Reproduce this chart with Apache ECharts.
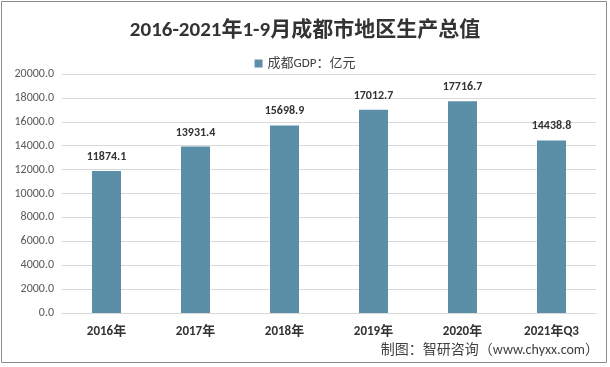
<!DOCTYPE html>
<html>
<head>
<meta charset="utf-8">
<script src="https://cdn.jsdelivr.net/npm/echarts@6/dist/echarts.min.js"></script>
<style>
  html, body { margin: 0; padding: 0; background: #fff; }
  #chart { width: 610px; height: 367px; }
</style>
</head>
<body>
<div id="chart"></div>
<script>
// 年份 & GDP（亿元）
const years = ['2016年', '2017年', '2018年', '2019年', '2020年', '2021年Q3']
const gdp = [11874.1, 13931.4, 15698.9, 17012.7, 17716.7, 14438.8]

const font = 'Calibri, "Noto Sans CJK SC", "Liberation Sans", sans-serif'

const chart = echarts.init(document.getElementById('chart'))
chart.setOption({
  backgroundColor: '#fff',
  animation: false,
  title: {
    text: '2016-2021年1-9月成都市地区生产总值',
    left: 'center',
    top: 15,
    textStyle: { fontSize: 21, fontWeight: 'bold', color: '#333', fontFamily: font }
  },
  legend: {
    top: 52,
    left: 'center',
    itemWidth: 8,
    itemHeight: 8,
    icon: 'rect',
    textStyle: { fontSize: 13, color: '#404040', fontFamily: font },
    data: ['成都GDP：亿元']
  },
  grid: { left: 62, right: 14, top: 74, bottom: 54 },
  xAxis: {
    type: 'category',
    data: years,
    axisLine: { lineStyle: { color: '#d9d9d9' } },
    axisTick: { show: false },
    axisLabel: { fontSize: 13, fontWeight: 'bold', color: '#333', margin: 12, fontFamily: font }
  },
  yAxis: {
    type: 'value',
    min: 0,
    max: 20000,
    interval: 2000,
    axisLabel: {
      fontSize: 12, color: '#595959', fontFamily: font,
      formatter: v => v.toFixed(1)
    },
    splitLine: { lineStyle: { color: '#d9d9d9' } }
  },
  series: [{
    name: '成都GDP：亿元',
    type: 'bar',
    data: gdp,
    barWidth: 29,
    itemStyle: { color: '#5b8fa8' },
    label: {
      show: true,
      position: 'top',
      distance: 8,
      fontSize: 12,
      fontWeight: 'bold',
      color: '#333',
      fontFamily: font,
      formatter: p => p.value.toFixed(1)
    }
  }],
  graphic: [
    {
      type: 'rect',
      shape: { x: 1.5, y: 1.5, width: 605, height: 361 },
      style: { fill: 'none', stroke: '#8c8c8c', lineWidth: 1 },
      silent: true
    },
    {
      type: 'text',
      right: 11,
      top: 344,
      style: { text: '制图：智研咨询（www.chyxx.com）', fill: '#404040', font: '14px ' + font }
    }
  ]
})
</script>
</body>
</html>
